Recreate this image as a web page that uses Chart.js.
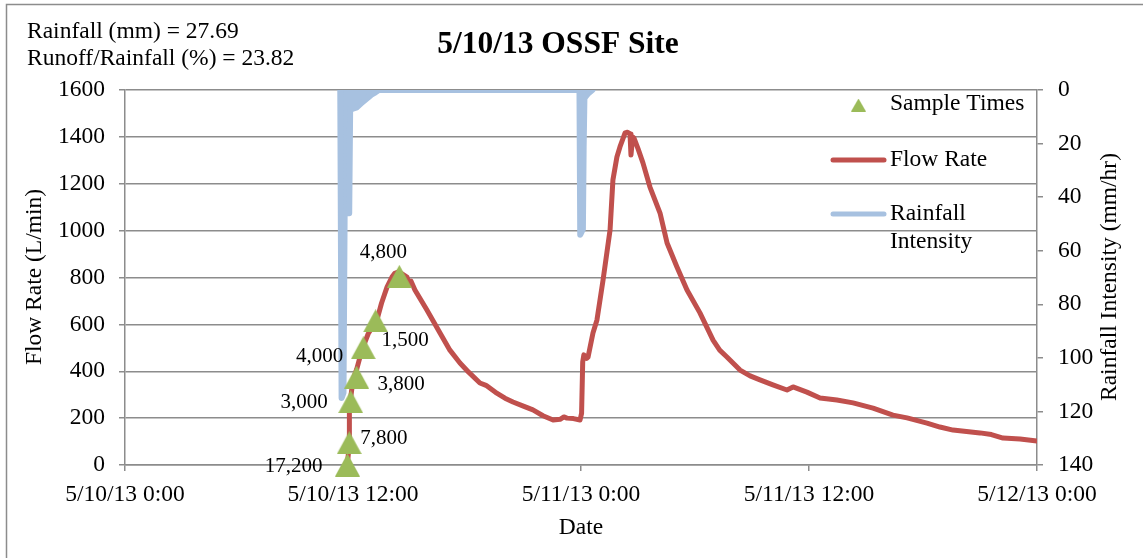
<!DOCTYPE html>
<html>
<head>
<meta charset="utf-8">
<script src="https://cdn.jsdelivr.net/npm/chart.js@4/dist/chart.umd.min.js"></script>
<style>
html,body{margin:0;padding:0;background:#fff;}
#wrap{width:1143px;height:558px;position:relative;}
</style>
</head>
<body>
<div id="wrap"><canvas id="c"></canvas></div>
<script>
// ---------- DATA ----------
const xTickLabels = ['5/10/13 0:00', '5/10/13 12:00', '5/11/13 0:00', '5/11/13 12:00', '5/12/13 0:00'];

// Flow rate (L/min) vs hours since 5/10/13 0:00
const flowHours = [11.70, 11.79, 11.81, 11.90, 12.00, 12.20, 12.47, 12.80, 13.26, 13.50, 13.79, 14.05, 14.20, 14.37, 14.60, 14.84, 14.95, 15.05, 15.26, 15.89,
  16.58, 17.10, 17.63, 18.10, 18.68, 19.00, 19.50, 20.00, 20.42, 21.00, 21.47, 22.00, 22.53, 22.90, 23.10, 23.26, 23.60, 23.95, 24.03, 24.09,
  24.15, 24.30, 24.37, 24.63, 24.84, 25.16, 25.53, 25.68, 25.89, 26.05, 26.32, 26.45, 26.58, 26.63, 26.72, 26.79, 27.00, 27.26, 27.63, 28.16,
  28.53, 29.05, 29.58, 30.26, 30.95, 31.30, 31.68, 32.37, 32.90, 33.42, 34.10, 34.84, 35.16, 35.89, 36.58, 37.47, 38.32, 39.37, 40.42, 41.16,
  42.21, 42.89, 43.58, 45.00, 45.60, 46.21, 47.11, 48.00];
const flowValues = [0, 77, 247, 300, 363, 410, 491, 560, 619, 690, 759, 802, 818, 823, 815, 802, 770, 785, 747, 661,
  563, 490, 435, 395, 350, 340, 310, 285, 269, 250, 235, 210, 192, 195, 205, 200, 198, 192, 220, 440,
  470, 455, 460, 563, 619, 789, 1003, 1216, 1314, 1357, 1417, 1420, 1412, 1323, 1400, 1395, 1350, 1289, 1186, 1075,
  947, 845, 747, 649, 533, 490, 461, 405, 380, 363, 342, 320, 333, 311, 286, 277, 265, 243, 213, 201,
  179, 162, 149, 137, 130, 115, 111, 102];

// Rainfall intensity (mm/hr) vs hours
const rainHours = [11.33, 11.40, 11.50, 11.56, 11.80, 11.85, 12.00, 12.20, 12.50, 12.80, 13.00, 13.16, 13.35,
  23.92, 23.96, 24.10, 24.14, 24.18, 24.35, 24.60];
const rainValues = [0, 115, 113, 46, 46, 7, 7, 6.5, 4.5, 2.8, 1.6, 1, 0,
  0, 54, 52, 21, 3, 1.5, 0];

// Sample times
const sampleHours = [11.71, 11.80, 11.88, 12.19, 12.54, 13.19, 14.44];
const sampleFlow = [0, 95, 270, 375, 500, 615, 805];
const sampleLabels = ['17,200', '7,800', '3,000', '3,800', '4,000', '1,500', '4,800'];

const rainfallTotal = '27.69';
const runoffRatio = '23.82';

// ---------- STYLE ----------
const FONT = "'Liberation Serif', 'Times New Roman', serif";
const GRID = '#8c8c8c';
const RED = '#c0504d', BLUE = '#a7c1e0', GREEN = '#9bbb59';
// label placement relative to marker: [dx, dy, align]
const labelOffsets = [[-25, 1, 'right'], [11, -4, 'left'], [-23, 1, 'right'], [21, 7, 'left'], [-20, 9, 'right'], [6, 20, 'left'], [-16, -24, 'center']];

function triCanvas(w, h, color) {
  const c = document.createElement('canvas'); c.width = w; c.height = h;
  const g = c.getContext('2d'); g.fillStyle = color;
  g.beginPath(); g.moveTo(w / 2, 0); g.lineTo(w, h); g.lineTo(0, h); g.closePath(); g.fill();
  return c;
}
const triMarker = triCanvas(25, 23, GREEN);

const pts = (xs, ys) => xs.map((x, i) => ({x: x, y: ys[i]}));

Chart.defaults.font.family = FONT;
Chart.defaults.font.size = 23.5;
Chart.defaults.color = '#000';

const overlay = {
  id: 'overlay',
  beforeDraw(chart) {
    const ctx = chart.ctx;
    ctx.save();
    ctx.fillStyle = '#fff'; ctx.fillRect(0, 0, chart.width, chart.height);
    ctx.strokeStyle = GRID; ctx.lineWidth = 1.5;
    ctx.strokeRect(6.5, 4.5, chart.width + 20, chart.height + 20);
    ctx.restore();
  },
  afterDatasetsDraw(chart) {
    const ctx = chart.ctx;
    const meta = chart.getDatasetMeta(0);
    ctx.save();
    ctx.font = '21px ' + FONT; ctx.fillStyle = '#000'; ctx.textBaseline = 'middle';
    meta.data.forEach((p, i) => {
      const o = labelOffsets[i];
      ctx.textAlign = o[2];
      ctx.fillText(sampleLabels[i], p.x + o[0], p.y + o[1]);
    });
    ctx.restore();
  },
  afterDraw(chart) {
    const ctx = chart.ctx;
    ctx.save();
    ctx.fillStyle = '#000';
    // title
    ctx.font = 'bold 31.5px ' + FONT; ctx.textAlign = 'center'; ctx.textBaseline = 'alphabetic';
    ctx.fillText('5/10/13 OSSF Site', 558, 53);
    // top-left notes
    ctx.font = '23.5px ' + FONT; ctx.textAlign = 'left';
    ctx.fillText('Rainfall (mm) = ' + rainfallTotal, 27, 38);
    ctx.fillText('Runoff/Rainfall (%) = ' + runoffRatio, 27, 65);
    // axis titles
    ctx.textBaseline = 'middle'; ctx.textAlign = 'center';
    ctx.fillText('Date', 581, 528);
    ctx.save(); ctx.translate(35, 277); ctx.rotate(-Math.PI / 2); ctx.fillText('Flow Rate (L/min)', 0, 0); ctx.restore();
    ctx.save(); ctx.translate(1110, 277); ctx.rotate(-Math.PI / 2); ctx.fillText('Rainfall Intensity (mm/hr)', 0, 0); ctx.restore();
    // legend
    const ds = chart.data.datasets;
    ctx.drawImage(triCanvas(15, 13, GREEN), 851, 98.5);
    ctx.textAlign = 'left';
    ctx.fillText(ds[0].label, 890, 104);
    ctx.lineCap = 'round';
    ctx.strokeStyle = ds[1].borderColor; ctx.lineWidth = 5;
    ctx.beginPath(); ctx.moveTo(833, 160); ctx.lineTo(884, 160); ctx.stroke();
    ctx.fillText(ds[1].label, 890, 160);
    ctx.strokeStyle = ds[2].borderColor; ctx.lineWidth = 5;
    ctx.beginPath(); ctx.moveTo(833, 214); ctx.lineTo(884, 214); ctx.stroke();
    const rl = ds[2].label.split(' ');
    ctx.fillText(rl[0], 890, 214);
    ctx.fillText(rl[1], 890, 242);
    ctx.restore();
  }
};

new Chart(document.getElementById('c'), {
  type: 'scatter',
  data: {
    datasets: [
      {
        label: 'Sample Times', data: pts(sampleHours, sampleFlow), yAxisID: 'y', order: 0,
        pointStyle: triMarker, pointRadius: 12, showLine: false, clip: false
      },
      {
        label: 'Flow Rate', data: pts(flowHours, flowValues), yAxisID: 'y', order: 1,
        showLine: true, borderColor: RED, borderWidth: 5, pointRadius: 0, tension: 0,
        borderJoinStyle: 'round', borderCapStyle: 'round'
      },
      {
        label: 'Rainfall Intensity', data: pts(rainHours, rainValues), yAxisID: 'y2', order: 2,
        showLine: true, borderColor: BLUE, backgroundColor: BLUE, fill: 'origin', borderWidth: 6, pointRadius: 0, tension: 0,
        borderJoinStyle: 'round', borderCapStyle: 'round', clip: 0
      }
    ]
  },
  options: {
    responsive: true, maintainAspectRatio: false, animation: false,
    layout: {padding: {top: 90, left: 0, right: 0, bottom: 0}},
    plugins: {legend: {display: false}, tooltip: {enabled: false}, title: {display: false}, filler: {propagate: false}},
    events: [],
    scales: {
      x: {
        type: 'linear', min: 0, max: 48,
        afterFit: s => { s.height = 93; },
        afterBuildTicks: s => { s.ticks = [0, 12, 24, 36, 48].map(v => ({value: v})); },
        ticks: {callback: v => xTickLabels[Math.round(v / 12)], maxRotation: 0, autoSkip: false, padding: 10},
        grid: {drawOnChartArea: false, drawTicks: true, tickLength: 6, color: GRID, lineWidth: 1.5},
        border: {display: true, color: GRID, width: 1.5}
      },
      y: {
        position: 'left', min: 0, max: 1600,
        afterFit: s => { s.width = 125; },
        ticks: {stepSize: 200, padding: 14, callback: v => String(v)},
        grid: {drawOnChartArea: true, drawTicks: true, tickLength: 6, color: GRID, lineWidth: 1.5},
        border: {display: true, color: GRID, width: 1.5}
      },
      y2: {
        position: 'right', min: 0, max: 140, reverse: true,
        afterFit: s => { s.width = 106; },
        ticks: {stepSize: 20, padding: 15, callback: v => String(v)},
        grid: {drawOnChartArea: false, drawTicks: true, tickLength: 6, color: GRID, lineWidth: 1.5},
        border: {display: true, color: GRID, width: 1.5}
      }
    }
  },
  plugins: [overlay]
});
</script>
</body>
</html>
